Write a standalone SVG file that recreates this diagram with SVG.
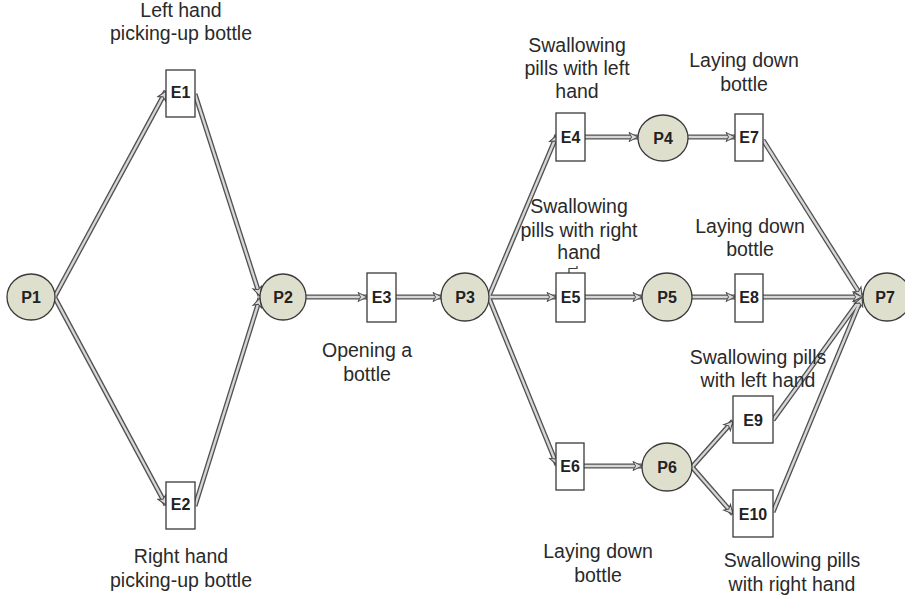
<svg xmlns="http://www.w3.org/2000/svg" xmlns:xlink="http://www.w3.org/1999/xlink" width="905" height="607" viewBox="0 0 905 607">
  <style>
    .place { fill: #dedfcd; stroke: #3a3a3a; stroke-width: 1.3; }
    .event { fill: #ffffff; stroke: #3a3a3a; stroke-width: 1.3; }
    .id { font-family: "Liberation Sans", Arial, sans-serif; font-weight: bold; font-size: 16px; fill: #222; text-anchor: middle; }
    .label { font-family: "Liberation Sans", Arial, sans-serif; font-size: 19.5px; fill: #2a2a2a; text-anchor: middle; }
    .edge-outer { fill: none; stroke: #505050; stroke-width: 5; }
    .edge-inner { fill: none; stroke: #d6d6d6; stroke-width: 2.4; marker-end: url(#head); }
  </style>
  <defs>
    <marker id="head" markerUnits="userSpaceOnUse" viewBox="0 0 12 12" refX="10" refY="6" markerWidth="12" markerHeight="12" orient="auto">
      <path d="M1,1.5 L10,6 L1,10.5 L3.5,6 Z" fill="#dadada" stroke="#4a4a4a" stroke-width="1"/>
    </marker>
    <path id="c1" d="M55,296 L166,91"/>
    <path id="c2" d="M55,298 L166,505"/>
    <path id="c3" d="M195,94 L260,296"/>
    <path id="c4" d="M195,506 L260,298"/>
    <path id="c5" d="M306,297 L367,297"/>
    <path id="c6" d="M396,297 L442,297"/>
    <path id="c7" d="M489,296 L557,135"/>
    <path id="c8" d="M489,297 L556,297"/>
    <path id="c9" d="M489,298 L557,465"/>
    <path id="c10" d="M585,137 L638,137"/>
    <path id="c11" d="M688,137 L735,137"/>
    <path id="c12" d="M585,297 L642,297"/>
    <path id="c13" d="M692,297 L735,297"/>
    <path id="c14" d="M584,466 L642,466"/>
    <path id="c15" d="M692,467 L733,421"/>
    <path id="c16" d="M692,467 L733,514"/>
    <path id="c17" d="M763,140 L862,297"/>
    <path id="c18" d="M763,297 L862,297"/>
    <path id="c19" d="M773,420 L862,297"/>
    <path id="c20" d="M773,512 L862,297"/>
  </defs>

  <rect width="905" height="607" fill="#ffffff"/>

  <!-- connectors: dark outline with a light core -->
  <g id="connectors">
    <g class="edge-outer">
      <use xlink:href="#c1"/><use xlink:href="#c2"/><use xlink:href="#c3"/><use xlink:href="#c4"/>
      <use xlink:href="#c5"/><use xlink:href="#c6"/><use xlink:href="#c7"/><use xlink:href="#c8"/>
      <use xlink:href="#c9"/><use xlink:href="#c10"/><use xlink:href="#c11"/><use xlink:href="#c12"/>
      <use xlink:href="#c13"/><use xlink:href="#c14"/><use xlink:href="#c15"/><use xlink:href="#c16"/>
      <use xlink:href="#c17"/><use xlink:href="#c18"/><use xlink:href="#c19"/><use xlink:href="#c20"/>
    </g>
    <g class="edge-inner">
      <use xlink:href="#c1"/><use xlink:href="#c2"/><use xlink:href="#c3"/><use xlink:href="#c4"/>
      <use xlink:href="#c5"/><use xlink:href="#c6"/><use xlink:href="#c7"/><use xlink:href="#c8"/>
      <use xlink:href="#c9"/><use xlink:href="#c10"/><use xlink:href="#c11"/><use xlink:href="#c12"/>
      <use xlink:href="#c13"/><use xlink:href="#c14"/><use xlink:href="#c15"/><use xlink:href="#c16"/>
      <use xlink:href="#c17"/><use xlink:href="#c18"/><use xlink:href="#c19"/><use xlink:href="#c20"/>
    </g>
  </g>

  <!-- places -->
  <g id="P1"><ellipse class="place" cx="31" cy="297" rx="24" ry="23"/><text class="id" x="31" y="303">P1</text></g>
  <g id="P2"><ellipse class="place" cx="283" cy="297" rx="23" ry="23"/><text class="id" x="283" y="303">P2</text></g>
  <g id="P3"><ellipse class="place" cx="465" cy="297" rx="24" ry="24"/><text class="id" x="465" y="303">P3</text></g>
  <g id="P4"><ellipse class="place" cx="663" cy="138" rx="25" ry="23"/><text class="id" x="663" y="144">P4</text></g>
  <g id="P5"><ellipse class="place" cx="667" cy="297" rx="25" ry="24"/><text class="id" x="667" y="303">P5</text></g>
  <g id="P6"><ellipse class="place" cx="667" cy="467" rx="25" ry="24"/><text class="id" x="667" y="473">P6</text></g>
  <g id="P7"><ellipse class="place" cx="887" cy="297" rx="24" ry="24"/><text class="id" x="885" y="303">P7</text></g>

  <!-- events -->
  <g id="E1"><rect class="event" x="166" y="70" width="29" height="47"/><text class="id" x="180.5" y="98">E1</text></g>
  <g id="E2"><rect class="event" x="166" y="482" width="29" height="47"/><text class="id" x="180.5" y="510">E2</text></g>
  <g id="E3"><rect class="event" x="367" y="273" width="29" height="49"/><text class="id" x="381.5" y="303">E3</text></g>
  <g id="E4"><rect class="event" x="556" y="113" width="29" height="48"/><text class="id" x="570.5" y="143">E4</text></g>
  <g id="E5"><rect class="event" x="556" y="273" width="29" height="49"/><path d="M569,273 V268.5 H577 V266" fill="none" stroke="#3a3a3a" stroke-width="1.2"/><text class="id" x="570.5" y="303">E5</text></g>
  <g id="E6"><rect class="event" x="556" y="443" width="28" height="47"/><text class="id" x="570" y="472">E6</text></g>
  <g id="E7"><rect class="event" x="735" y="114" width="28" height="47"/><text class="id" x="749" y="143">E7</text></g>
  <g id="E8"><rect class="event" x="735" y="274" width="28" height="48"/><text class="id" x="749" y="303">E8</text></g>
  <g id="E9"><rect class="event" x="733" y="396" width="40" height="47"/><text class="id" x="753" y="426">E9</text></g>
  <g id="E10"><rect class="event" x="733" y="490" width="40" height="47"/><text class="id" x="753" y="520">E10</text></g>

  <!-- event descriptions -->
  <g id="labels">
    <text class="label" x="181" y="17">Left hand</text>
    <text class="label" x="181" y="40">picking-up bottle</text>
    <text class="label" x="181" y="563">Right hand</text>
    <text class="label" x="181" y="587">picking-up bottle</text>
    <text class="label" x="367" y="357">Opening a</text>
    <text class="label" x="367" y="381">bottle</text>
    <text class="label" x="577" y="52">Swallowing</text>
    <text class="label" x="577" y="75">pills with left</text>
    <text class="label" x="577" y="98">hand</text>
    <text class="label" x="744" y="67">Laying down</text>
    <text class="label" x="744" y="91">bottle</text>
    <text class="label" x="579" y="213">Swallowing</text>
    <text class="label" x="579" y="237">pills with right</text>
    <text class="label" x="579" y="259">hand</text>
    <text class="label" x="750" y="233">Laying down</text>
    <text class="label" x="750" y="256">bottle</text>
    <text class="label" x="758" y="364">Swallowing pills</text>
    <text class="label" x="758" y="387">with left hand</text>
    <text class="label" x="598" y="558">Laying down</text>
    <text class="label" x="598" y="582">bottle</text>
    <text class="label" x="792" y="567">Swallowing pills</text>
    <text class="label" x="792" y="591">with right hand</text>
  </g>
</svg>
